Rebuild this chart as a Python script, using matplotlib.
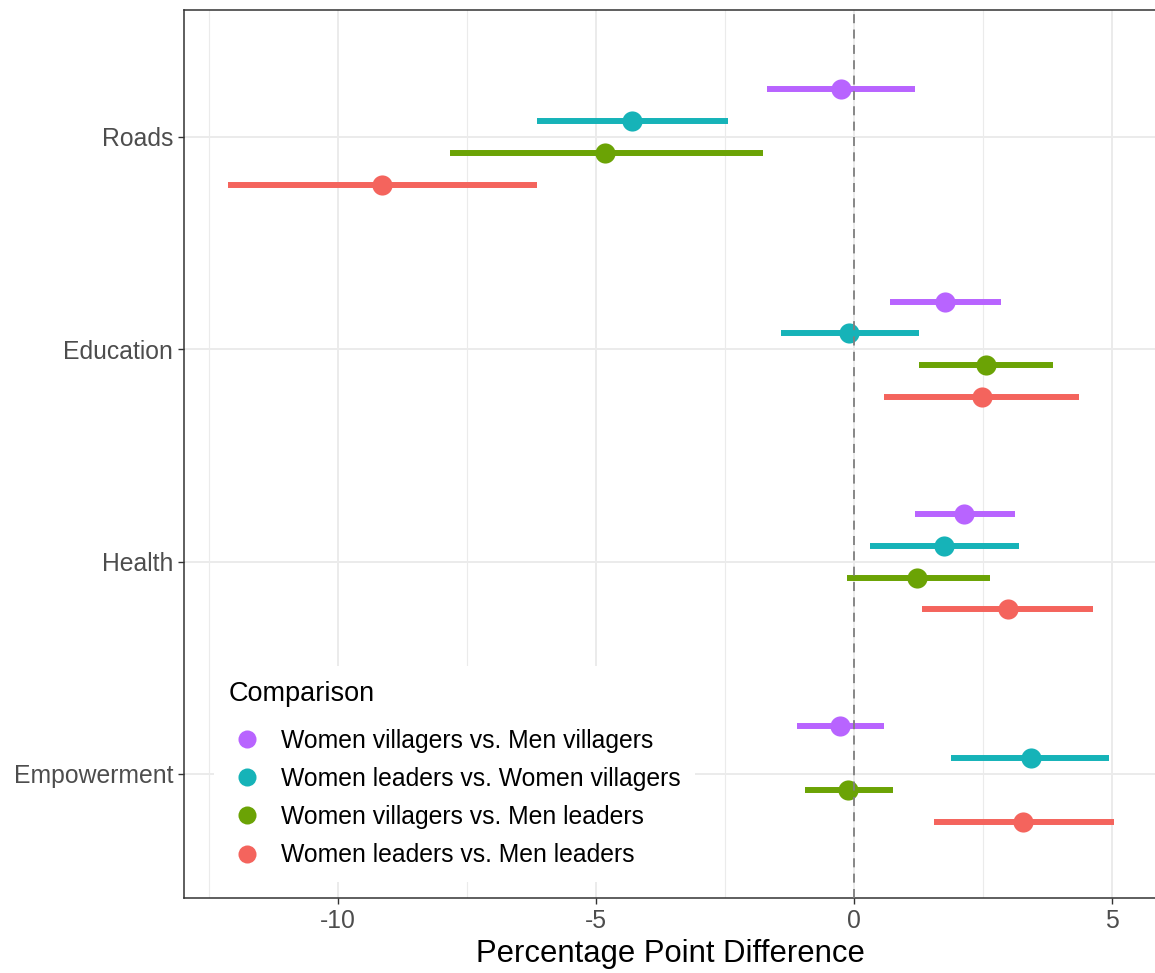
import numpy as np
import matplotlib.pyplot as plt
from matplotlib.lines import Line2D

plt.rcParams['font.family'] = ['Liberation Sans', 'DejaVu Sans']

outcomes = ['Roads', 'Education', 'Health', 'Empowerment']
comparisons = ['Women villagers vs. Men villagers',
               'Women leaders vs. Women villagers',
               'Women villagers vs. Men leaders',
               'Women leaders vs. Men leaders']
colors = ['#B864FF', '#16B3B8', '#6BA305', '#F4645D']

# point estimates and 95% CI bounds, one list per comparison (order = outcomes)
wv_mv_est = [-0.25, 1.77, 2.12, -0.27]
wv_mv_lo = [-1.69, 0.70, 1.17, -1.11]
wv_mv_hi = [1.18, 2.85, 3.11, 0.58]

wl_wv_est = [-4.31, -0.10, 1.75, 3.42]
wl_wv_lo = [-6.14, -1.42, 0.31, 1.88]
wl_wv_hi = [-2.45, 1.26, 3.20, 4.93]

wv_ml_est = [-4.82, 2.56, 1.22, -0.12]
wv_ml_lo = [-7.84, 1.26, -0.14, -0.95]
wv_ml_hi = [-1.77, 3.86, 2.64, 0.76]

wl_ml_est = [-9.15, 2.47, 2.99, 3.28]
wl_ml_lo = [-12.14, 0.58, 1.32, 1.55]
wl_ml_hi = [-6.14, 4.35, 4.62, 5.03]

est = [wv_mv_est, wl_wv_est, wv_ml_est, wl_ml_est]
lo = [wv_mv_lo, wl_wv_lo, wv_ml_lo, wl_ml_lo]
hi = [wv_mv_hi, wl_wv_hi, wv_ml_hi, wl_ml_hi]

dodge = [-0.225, -0.075, 0.075, 0.225]

fig = plt.figure(figsize=(11.55, 9.73), dpi=100)
ax = fig.add_axes([0.1593, 0.0771, 0.8420, 0.9126])

ypos = np.arange(len(outcomes))
for j in range(len(comparisons)):
    y = ypos + dodge[j]
    ax.hlines(y, lo[j], hi[j], color=colors[j], lw=4.3, zorder=3)
    ax.plot(est[j], y, 'o', color=colors[j], ms=14.5, mec='none', zorder=3)

ax.axvline(0, color='#7F7F7F', lw=1.3, ls=(0, (5, 3.5)), zorder=4)

ax.set_xlim(-12.99, 5.86)
ax.set_ylim(3.584, -0.598)
ax.set_xticks([-10, -5, 0, 5])
ax.set_xticklabels(['-10', '-5', '0', '5'])
ax.set_xticks([-12.5, -7.5, -2.5, 2.5], minor=True)
ax.set_yticks(ypos)
ax.set_yticklabels(outcomes)

ax.grid(which='major', color='#EBEBEB', lw=1.4, zorder=0)
ax.grid(which='minor', axis='x', color='#EBEBEB', lw=0.8, zorder=0)
ax.set_axisbelow(True)
ax.tick_params(which='major', length=4.3, width=1.0, color='#333333',
               labelsize=17.8, labelcolor='#4D4D4D', pad=3.6)
ax.tick_params(which='minor', length=0)
for s in ax.spines.values():
    s.set_color('#333333')
    s.set_linewidth(1.1)
ax.spines['right'].set_visible(False)

ax.set_xlabel('Percentage Point Difference', fontsize=22.3, labelpad=4)

handles = [Line2D([], [], marker='o', ls='none', color=c, ms=13, mec='none')
           for c in colors]
leg = ax.legend(handles, comparisons, title='Comparison', loc='lower left',
                bbox_to_anchor=(0.0306, 0.018), borderaxespad=0,
                fontsize=17.8, title_fontsize=19.5, alignment='left',
                frameon=True, fancybox=False, edgecolor='none',
                facecolor='white', framealpha=1, labelspacing=0.57,
                handletextpad=0.6, handlelength=1.5, borderpad=0.6)
# a bit more room between the title and the first key
leg._legend_box.sep = 15.9
leg.set_zorder(5)

fig.savefig('out.png', dpi=100)
